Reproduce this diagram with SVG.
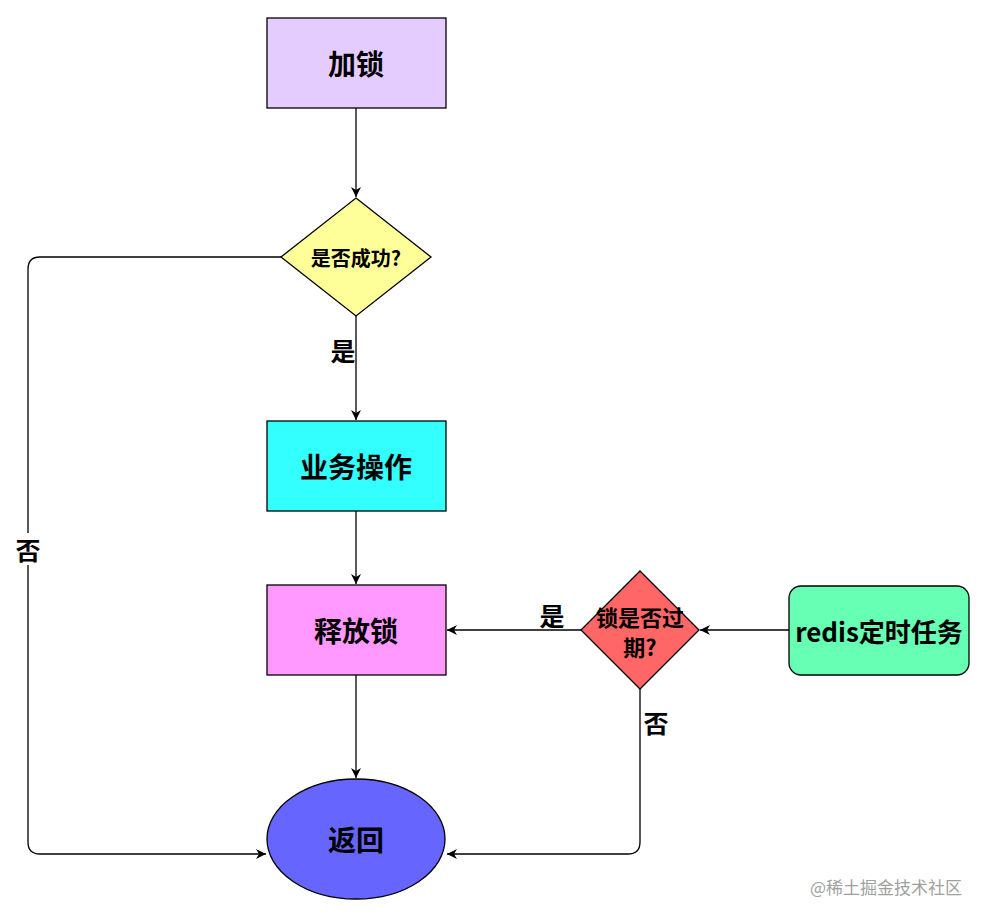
<svg xmlns="http://www.w3.org/2000/svg" width="992" height="920" viewBox="0 0 992 920">
<style>
.n{stroke:#000;stroke-width:1.3}
.t{font-family:"Noto Sans CJK SC","Liberation Sans",sans-serif;font-weight:bold;fill:#000;text-anchor:middle;dominant-baseline:central}
.e{fill:none;stroke:#000;stroke-width:1.3}
.lb{font-family:"Noto Sans CJK SC",sans-serif;font-weight:bold;font-size:25px;fill:#000;text-anchor:middle;dominant-baseline:central}
</style>
<defs>
<marker id="a" viewBox="0 0 10 10" refX="10" refY="5" markerWidth="10" markerHeight="10" markerUnits="userSpaceOnUse" orient="auto">
<path d="M0,0 L10,5 L0,10 L3,5 Z" fill="#000"/>
</marker>
</defs>
<rect width="992" height="920" fill="#fff"/>
<g id="edges">
<path class="e" d="M356,108 V197" marker-end="url(#a)"/>
<path class="e" d="M356,316 V420" marker-end="url(#a)"/>
<path class="e" d="M356,511 V584" marker-end="url(#a)"/>
<path class="e" d="M356,675 V778" marker-end="url(#a)"/>
<path class="e" d="M281,257 H40 Q28,257 28,269 V842 Q28,854 40,854 H266" marker-end="url(#a)"/>
<path class="e" d="M789,630 H700" marker-end="url(#a)"/>
<path class="e" d="M581,630 H447" marker-end="url(#a)"/>
<path class="e" d="M640,689 V842 Q640,854 628,854 H447" marker-end="url(#a)"/>
<rect x="13" y="533" width="30" height="32" fill="#fff"/>
<text class="lb" x="28" y="549">否</text>
<text class="lb" x="343" y="350">是</text>
<text class="lb" x="552" y="615">是</text>
<text class="lb" x="656" y="722">否</text>
</g>
<g id="lock">
<rect class="n" x="267" y="18" width="179" height="90" fill="#e5ccff"/>
<text class="t" x="356" y="63" font-size="28">加锁</text>
</g>
<g id="success">
<polygon class="n" points="356,198 431,257 356,316 281,257" fill="#ffff99"/>
<text class="t" x="356" y="257" font-size="20">是否成功?</text>
</g>
<g id="biz">
<rect class="n" x="267" y="421" width="179" height="90" fill="#33ffff"/>
<text class="t" x="356" y="466" font-size="28">业务操作</text>
</g>
<g id="release">
<rect class="n" x="267" y="585" width="179" height="90" fill="#ff99ff"/>
<text class="t" x="356" y="630" font-size="28">释放锁</text>
</g>
<g id="ret">
<ellipse class="n" cx="356" cy="839" rx="89" ry="60" fill="#6666ff"/>
<text class="t" x="356" y="839" font-size="28">返回</text>
</g>
<g id="expired">
<polygon class="n" points="640,571 699,630 640,689 581,630" fill="#ff6666"/>
<text class="t" x="640" y="616" font-size="22">锁是否过</text>
<text class="t" x="640" y="646" font-size="22">期?</text>
</g>
<g id="redis">
<rect class="n" x="789" y="586" width="180" height="89" rx="12" fill="#66ffb3"/>
<text class="t" x="879" y="630" font-size="26">redis定时任务</text>
</g>
<text x="886" y="886" font-family="Noto Sans CJK SC,sans-serif" font-size="17" fill="#a0a0a0" text-anchor="middle" dominant-baseline="central">@稀土掘金技术社区</text>
</svg>
